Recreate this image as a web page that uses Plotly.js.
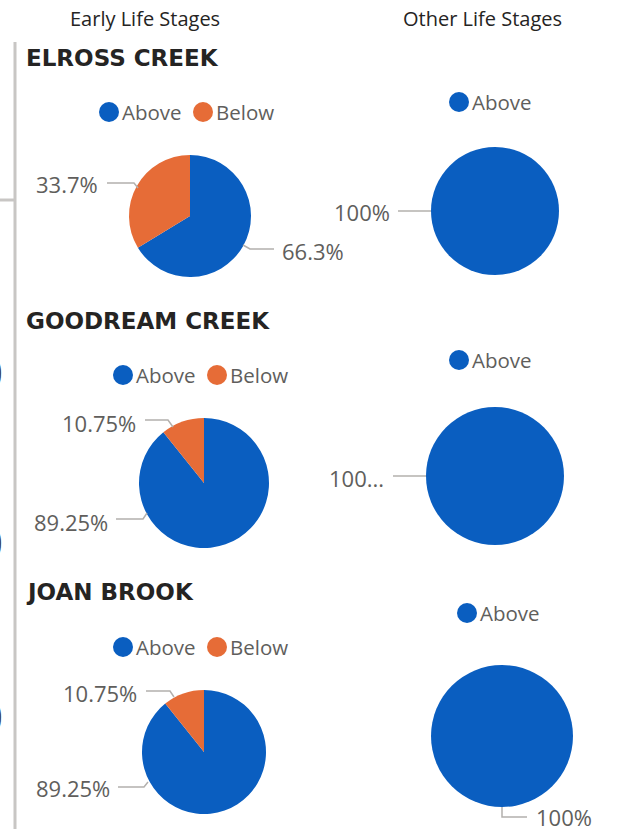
<!DOCTYPE html>
<html>
<head>
<meta charset="utf-8">
<script src="https://cdn.plot.ly/plotly-3.0.1.min.js"></script>
<style>
  html, body { margin: 0; padding: 0; background: #ffffff; }
  #chart { width: 622px; height: 829px; }
</style>
</head>
<body>
<div id="chart"></div>
<script>
// ---------------- DATA ----------------
const sites = ['ELROSS CREEK', 'GOODREAM CREEK', 'JOAN BROOK'];
const stages = ['Early Life Stages', 'Other Life Stages'];
const categories = ['Above', 'Below'];
const earlyAbove = [66.3, 89.25, 89.25];
const earlyBelow = [33.7, 10.75, 10.75];
const otherAbove = [100, 100, 100];
const otherBelow = [0, 0, 0];

// ---------------- STYLE / LAYOUT ----------------
const W = 622, H = 829;
const colors = ['#0A5EC0', '#E66C37'];
const X = px => px / W;
const Y = py => 1 - py / H;
const FONT = 'Open Sans, Noto Sans, sans-serif';
const labelColor = '#605E5C';
const lineColor = '#B3B0AD';

// pie geometry (pixels): order = site0 early, site0 other, site1 early, ...
const pieGeom = [
  {cx: 190, cy: 216, r: 61}, {cx: 495, cy: 211, r: 64},
  {cx: 204, cy: 483, r: 65}, {cx: 495, cy: 476, r: 69},
  {cx: 204, cy: 752, r: 62}, {cx: 502, cy: 736, r: 71}
];
// legend placement per pie: circle centres x, y
const legendPos = [
  {xs: [109, 203], y: 112}, {xs: [459], y: 102},
  {xs: [123, 217], y: 375}, {xs: [459], y: 360},
  {xs: [123, 217], y: 647}, {xs: [467], y: 613}
];
// data label placement per pie, per category (null = no label)
const labelPos = [
  [ {x: 280, y: 251, anchor: 'left', path: [[243, 245], [250, 249], [274, 249]]},
    {x: 100, y: 184, anchor: 'right', path: [[107, 183], [134, 183], [138, 188]]} ],
  [ {x: 392, y: 212, anchor: 'right', path: [[398, 211], [431, 211]]}, null ],
  [ {x: 110, y: 522, anchor: 'right', path: [[116, 519], [143, 519], [147, 513]]},
    {x: 138, y: 423, anchor: 'right', path: [[145, 420], [168, 420], [173, 427]]} ],
  [ {x: 386, y: 478, anchor: 'right', path: [[393, 476], [426, 476]], truncate: 3}, null ],
  [ {x: 112, y: 788, anchor: 'right', path: [[118, 787], [144, 787], [148, 782]]},
    {x: 139, y: 693, anchor: 'right', path: [[146, 691], [170, 691], [174, 697]]} ],
  [ {x: 534, y: 817, anchor: 'left', path: [[502, 807], [502, 817], [527, 817]]}, null ]
];

const fmt = v => (Math.round(v * 100) / 100).toString() + '%';

const traces = [];
const annotations = [];
const shapes = [];

// column headers
stages.forEach((s, j) => {
  annotations.push({
    text: s, xref: 'paper', yref: 'paper', x: X(j === 0 ? 145 : 482), y: Y(18),
    xanchor: 'center', yanchor: 'middle', showarrow: false,
    font: {family: FONT, size: 20, color: '#252423'}
  });
});

// left border lines
shapes.push({type: 'line', xref: 'paper', yref: 'paper', x0: X(15), x1: X(15), y0: Y(42), y1: Y(829),
  line: {color: '#C8C6C4', width: 3}});
shapes.push({type: 'line', xref: 'paper', yref: 'paper', x0: X(0), x1: X(15), y0: Y(200), y1: Y(200),
  line: {color: '#C8C6C4', width: 3}});
// clipped glyphs of a neighbouring visual at the left edge
[372, 542, 716].forEach(yy => {
  annotations.push({text: '0', xref: 'paper', yref: 'paper', x: X(5), y: Y(yy),
    xanchor: 'right', yanchor: 'middle', showarrow: false,
    font: {family: FONT, size: 44, color: '#3B3A39'}});
});

const titleY = [58, 321, 592];

sites.forEach((site, i) => {
  annotations.push({
    text: site, xref: 'paper', yref: 'paper', x: X(24), y: Y(titleY[i]),
    xanchor: 'left', yanchor: 'middle', showarrow: false,
    font: {family: 'DejaVu Sans, sans-serif', size: 23, color: '#252423', weight: 'bold'}
  });
  const series = [[earlyAbove[i], earlyBelow[i]], [otherAbove[i], otherBelow[i]]];
  series.forEach((vals, j) => {
    const k = i * 2 + j;
    const g = pieGeom[k];
    traces.push({
      type: 'pie', labels: categories, values: vals, sort: false,
      direction: 'clockwise', rotation: 0, textinfo: 'none', hoverinfo: 'label+percent',
      marker: {colors: colors, line: {width: 0}},
      showlegend: false,
      domain: {x: [X(g.cx - g.r), X(g.cx + g.r)], y: [Y(g.cy + g.r), Y(g.cy - g.r)]}
    });
    // legend entries for categories present
    const present = categories.filter((c, ci) => vals[ci] > 0);
    present.forEach((c, pi) => {
      const ci = categories.indexOf(c);
      const cx = legendPos[k].xs[pi], cy = legendPos[k].y;
      shapes.push({type: 'circle', xref: 'paper', yref: 'paper',
        x0: X(cx - 10), x1: X(cx + 10), y0: Y(cy + 10), y1: Y(cy - 10),
        fillcolor: colors[ci], line: {width: 0}});
      annotations.push({text: c, xref: 'paper', yref: 'paper', x: X(cx + 11), y: Y(cy),
        xanchor: 'left', yanchor: 'middle', showarrow: false,
        font: {family: FONT, size: 20.5, color: labelColor}});
    });
    // data labels
    const total = vals.reduce((a, b) => a + b, 0);
    vals.forEach((v, ci) => {
      const lp = labelPos[k][ci];
      if (!lp || v <= 0) return;
      let txt = fmt(v / total * 100);
      if (lp.truncate) txt = txt.slice(0, lp.truncate) + '...';
      annotations.push({text: txt, xref: 'paper', yref: 'paper', x: X(lp.x), y: Y(lp.y),
        xanchor: lp.anchor, yanchor: 'middle', showarrow: false,
        font: {family: FONT, size: 22, color: labelColor}});
      const p = lp.path.map((pt, n) => (n === 0 ? 'M' : 'L') + X(pt[0]) + ',' + Y(pt[1])).join(' ');
      shapes.push({type: 'path', xref: 'paper', yref: 'paper', path: p,
        line: {color: lineColor, width: 1.5}});
    });
  });
});

const layout = {
  width: W, height: H,
  margin: {l: 0, r: 0, t: 0, b: 0},
  paper_bgcolor: '#ffffff', plot_bgcolor: '#ffffff',
  showlegend: false,
  annotations: annotations,
  shapes: shapes,
  font: {family: FONT}
};

Plotly.newPlot('chart', traces, layout, {displayModeBar: false, staticPlot: true});
</script>
</body>
</html>
